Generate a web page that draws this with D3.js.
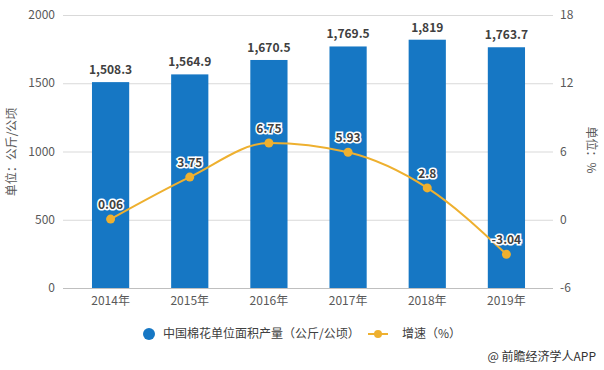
<!DOCTYPE html>
<html><head><meta charset="utf-8">
<script src="https://cdn.jsdelivr.net/npm/d3@7"></script>
<style>body{margin:0;background:#fff}svg{display:block;font-family:"Noto Sans CJK SC","Noto Sans",sans-serif}</style>
</head><body><svg id="c" width="604" height="370"></svg>
<script>
const categories = ["2014年","2015年","2016年","2017年","2018年","2019年"];
const yieldValues = [1508.3,1564.9,1670.5,1769.5,1819,1763.7];
const yieldLabels = ["1,508.3","1,564.9","1,670.5","1,769.5","1,819","1,763.7"];
const growthValues = [0.06,3.75,6.75,5.93,2.8,-3.04];
const leftTicks = [0,500,1000,1500,2000];
const rightTicks = [-6,0,6,12,18];

(function(){
const svg = d3.select("#c");
const pTop = 15, pBottom = 288, pLeft = 63, pRight = 553;
const x = d3.scaleBand().domain(categories).range([71,546]).paddingInner(0.53).paddingOuter(0.265);
const yL = d3.scaleLinear().domain([0,2000]).range([pBottom,pTop]);
const yR = d3.scaleLinear().domain([-6,18]).range([pBottom,pTop]);

// grid
svg.append("g").selectAll("line").data(leftTicks.slice(1)).join("line")
  .attr("x1",pLeft).attr("x2",pRight).attr("y1",d=>yL(d)+0.5).attr("y2",d=>yL(d)+0.5)
  .attr("stroke","#d9d9d9").attr("stroke-width",1);
svg.append("line").attr("x1",pLeft).attr("x2",pRight).attr("y1",pBottom+0.5).attr("y2",pBottom+0.5).attr("stroke","#bfbfbf");

// tick labels
svg.append("g").selectAll("text").data(leftTicks).join("text")
  .attr("x",55).attr("y",d=>yL(d)).attr("dy","0.35em").attr("text-anchor","end")
  .attr("font-size",12).attr("fill","#595959").text(d=>d);
svg.append("g").selectAll("text").data(rightTicks).join("text")
  .attr("x",560).attr("y",d=>yR(d)).attr("dy","0.35em").attr("text-anchor","start")
  .attr("font-size",12).attr("fill","#595959").text(d=>d);
svg.append("g").selectAll("text").data(categories).join("text")
  .attr("x",d=>x(d)+x.bandwidth()/2).attr("y",301).attr("dy","0.35em").attr("text-anchor","middle")
  .attr("font-size",12).attr("fill","#595959").text(d=>d);

// axis titles
svg.append("text").attr("transform","translate(16,152) rotate(-90)").attr("text-anchor","middle")
  .attr("font-size",12).attr("fill","#595959").text("单位：公斤/公顷");
svg.append("text").attr("transform","translate(587,150) rotate(90)").attr("text-anchor","middle")
  .attr("font-size",12).attr("fill","#595959").text("单位：%");

// bars
const barColor = "#1677c4";
svg.append("g").selectAll("rect").data(yieldValues).join("rect")
  .attr("x",(d,i)=>x(categories[i])).attr("width",x.bandwidth())
  .attr("y",d=>yL(d)).attr("height",d=>pBottom-yL(d)).attr("fill",barColor);
svg.append("g").selectAll("text").data(yieldValues).join("text")
  .attr("x",(d,i)=>x(categories[i])+x.bandwidth()/2).attr("y",d=>yL(d)-8)
  .attr("text-anchor","middle").attr("font-size",12).attr("font-weight","bold").attr("fill","#404040")
  .text((d,i)=>yieldLabels[i]);

// line
const lineColor = "#eeb02f";
const pts = growthValues.map((v,i)=>[x(categories[i])+x.bandwidth()/2, yR(v)]);
svg.append("path").attr("d",d3.line().curve(d3.curveMonotoneX)(pts))
  .attr("fill","none").attr("stroke",lineColor).attr("stroke-width",2);
svg.append("g").selectAll("circle").data(pts).join("circle")
  .attr("cx",d=>d[0]).attr("cy",d=>d[1]).attr("r",4.5).attr("fill",lineColor);
svg.append("g").selectAll("text").data(growthValues).join("text")
  .attr("x",(d,i)=>pts[i][0]).attr("y",(d,i)=>pts[i][1]-10)
  .attr("text-anchor","middle").attr("font-size",12).attr("font-weight","bold")
  .attr("fill","#404040").attr("stroke","#fff").attr("stroke-width",3).attr("paint-order","stroke")
  .text(d=>d);

// legend
svg.append("circle").attr("cx",149).attr("cy",334).attr("r",6).attr("fill",barColor);
svg.append("text").attr("x",163).attr("y",334).attr("dy","0.35em").attr("font-size",12).attr("fill","#404040")
  .text("中国棉花单位面积产量（公斤/公顷）");
svg.append("line").attr("x1",368).attr("x2",388).attr("y1",334).attr("y2",334).attr("stroke",lineColor).attr("stroke-width",2);
svg.append("circle").attr("cx",378).attr("cy",334).attr("r",4).attr("fill",lineColor);
svg.append("text").attr("x",402).attr("y",334).attr("dy","0.35em").attr("font-size",12).attr("fill","#404040")
  .text("增速（%）");

svg.append("text").attr("x",596).attr("y",357).attr("dy","0.35em").attr("text-anchor","end")
  .attr("font-size",12).attr("fill","#333").text("@ 前瞻经济学人APP");
})();
</script></body></html>
